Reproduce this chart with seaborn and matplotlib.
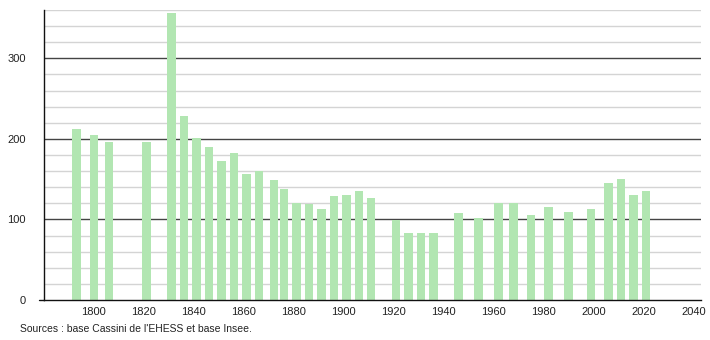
import matplotlib
matplotlib.use("Agg")
import matplotlib.pyplot as plt
import seaborn as sns
import pandas as pd
from matplotlib.ticker import MultipleLocator

years = [1793, 1800, 1806, 1821, 1831, 1836, 1841, 1846, 1851, 1856,
         1861, 1866, 1872, 1876, 1881, 1886, 1891, 1896, 1901, 1906,
         1911, 1921, 1926, 1931, 1936, 1946, 1954, 1962, 1968, 1975,
         1982, 1990, 1999, 2006, 2011, 2016, 2021]
population = [212, 205, 196, 196, 356, 228, 201, 190, 172, 183,
              156, 160, 149, 138, 120, 119, 113, 129, 130, 135,
              127, 99, 83, 83, 83, 108, 102, 121, 120, 106,
              115, 109, 113, 145, 150, 130, 135]
x_ticks = [1800, 1820, 1840, 1860, 1880, 1900, 1920, 1940, 1960, 1980, 2000, 2020, 2040]
y_ticks = [0, 100, 200, 300]
source_text = "Sources : base Cassini de l'EHESS et base Insee."

df = pd.DataFrame({"year": years, "pop": population})

sns.set_style("white")
plt.rcParams["font.family"] = ["Liberation Sans", "DejaVu Sans"]

fig = plt.figure(figsize=(7.1, 3.4), dpi=100)
ax = fig.add_axes([44 / 710, 40 / 340, (701 - 44) / 710, 290 / 340])

# grid lines (behind bars)
for v in range(20, 361, 20):
    if v % 100 == 0:
        ax.axhline(v, color="#444444", lw=1.0, zorder=0)
    else:
        ax.axhline(v, color="#d4d4d4", lw=1.0, zorder=0)

sns.barplot(data=df, x="year", y="pop", native_scale=True, width=0.85,
            color="#b2e6b2", saturation=1, ax=ax, zorder=2, errorbar=None,
            linewidth=0, edgecolor="none")

ax.set_xlim(1780, 2043)
ax.set_ylim(0, 360)
ax.set_xticks(x_ticks)
ax.set_xticklabels([str(t) for t in x_ticks])
ax.set_yticks(y_ticks)
ax.yaxis.set_minor_locator(MultipleLocator(20))
ax.set_xlabel("")
ax.set_ylabel("")

for s in ["top", "right"]:
    ax.spines[s].set_visible(False)
ax.spines["left"].set_color("#111111")
ax.spines["left"].set_linewidth(1.0)
ax.spines["bottom"].set_color("#111111")
ax.spines["bottom"].set_linewidth(1.0)

ax.tick_params(axis="x", length=0, labelsize=8, pad=5, colors="#222222")
ax.tick_params(axis="y", which="major", length=5, width=1, labelsize=8,
               pad=8, colors="#222222", direction="out")
ax.tick_params(axis="y", which="minor", length=4, width=1, color="#222222",
               direction="out")
ax.tick_params(axis="y", which="major", color="#111111")

# extend bottom axis line slightly left
ax.plot([-0.008, 0], [0, 0], transform=ax.transAxes, color="#111111",
        lw=1.0, clip_on=False)

fig.text(20 / 710, 1 - 329 / 340, source_text, fontsize=7.5, color="#222222",
         va="center", ha="left")

fig.savefig("out.png", dpi=100, facecolor="white")
